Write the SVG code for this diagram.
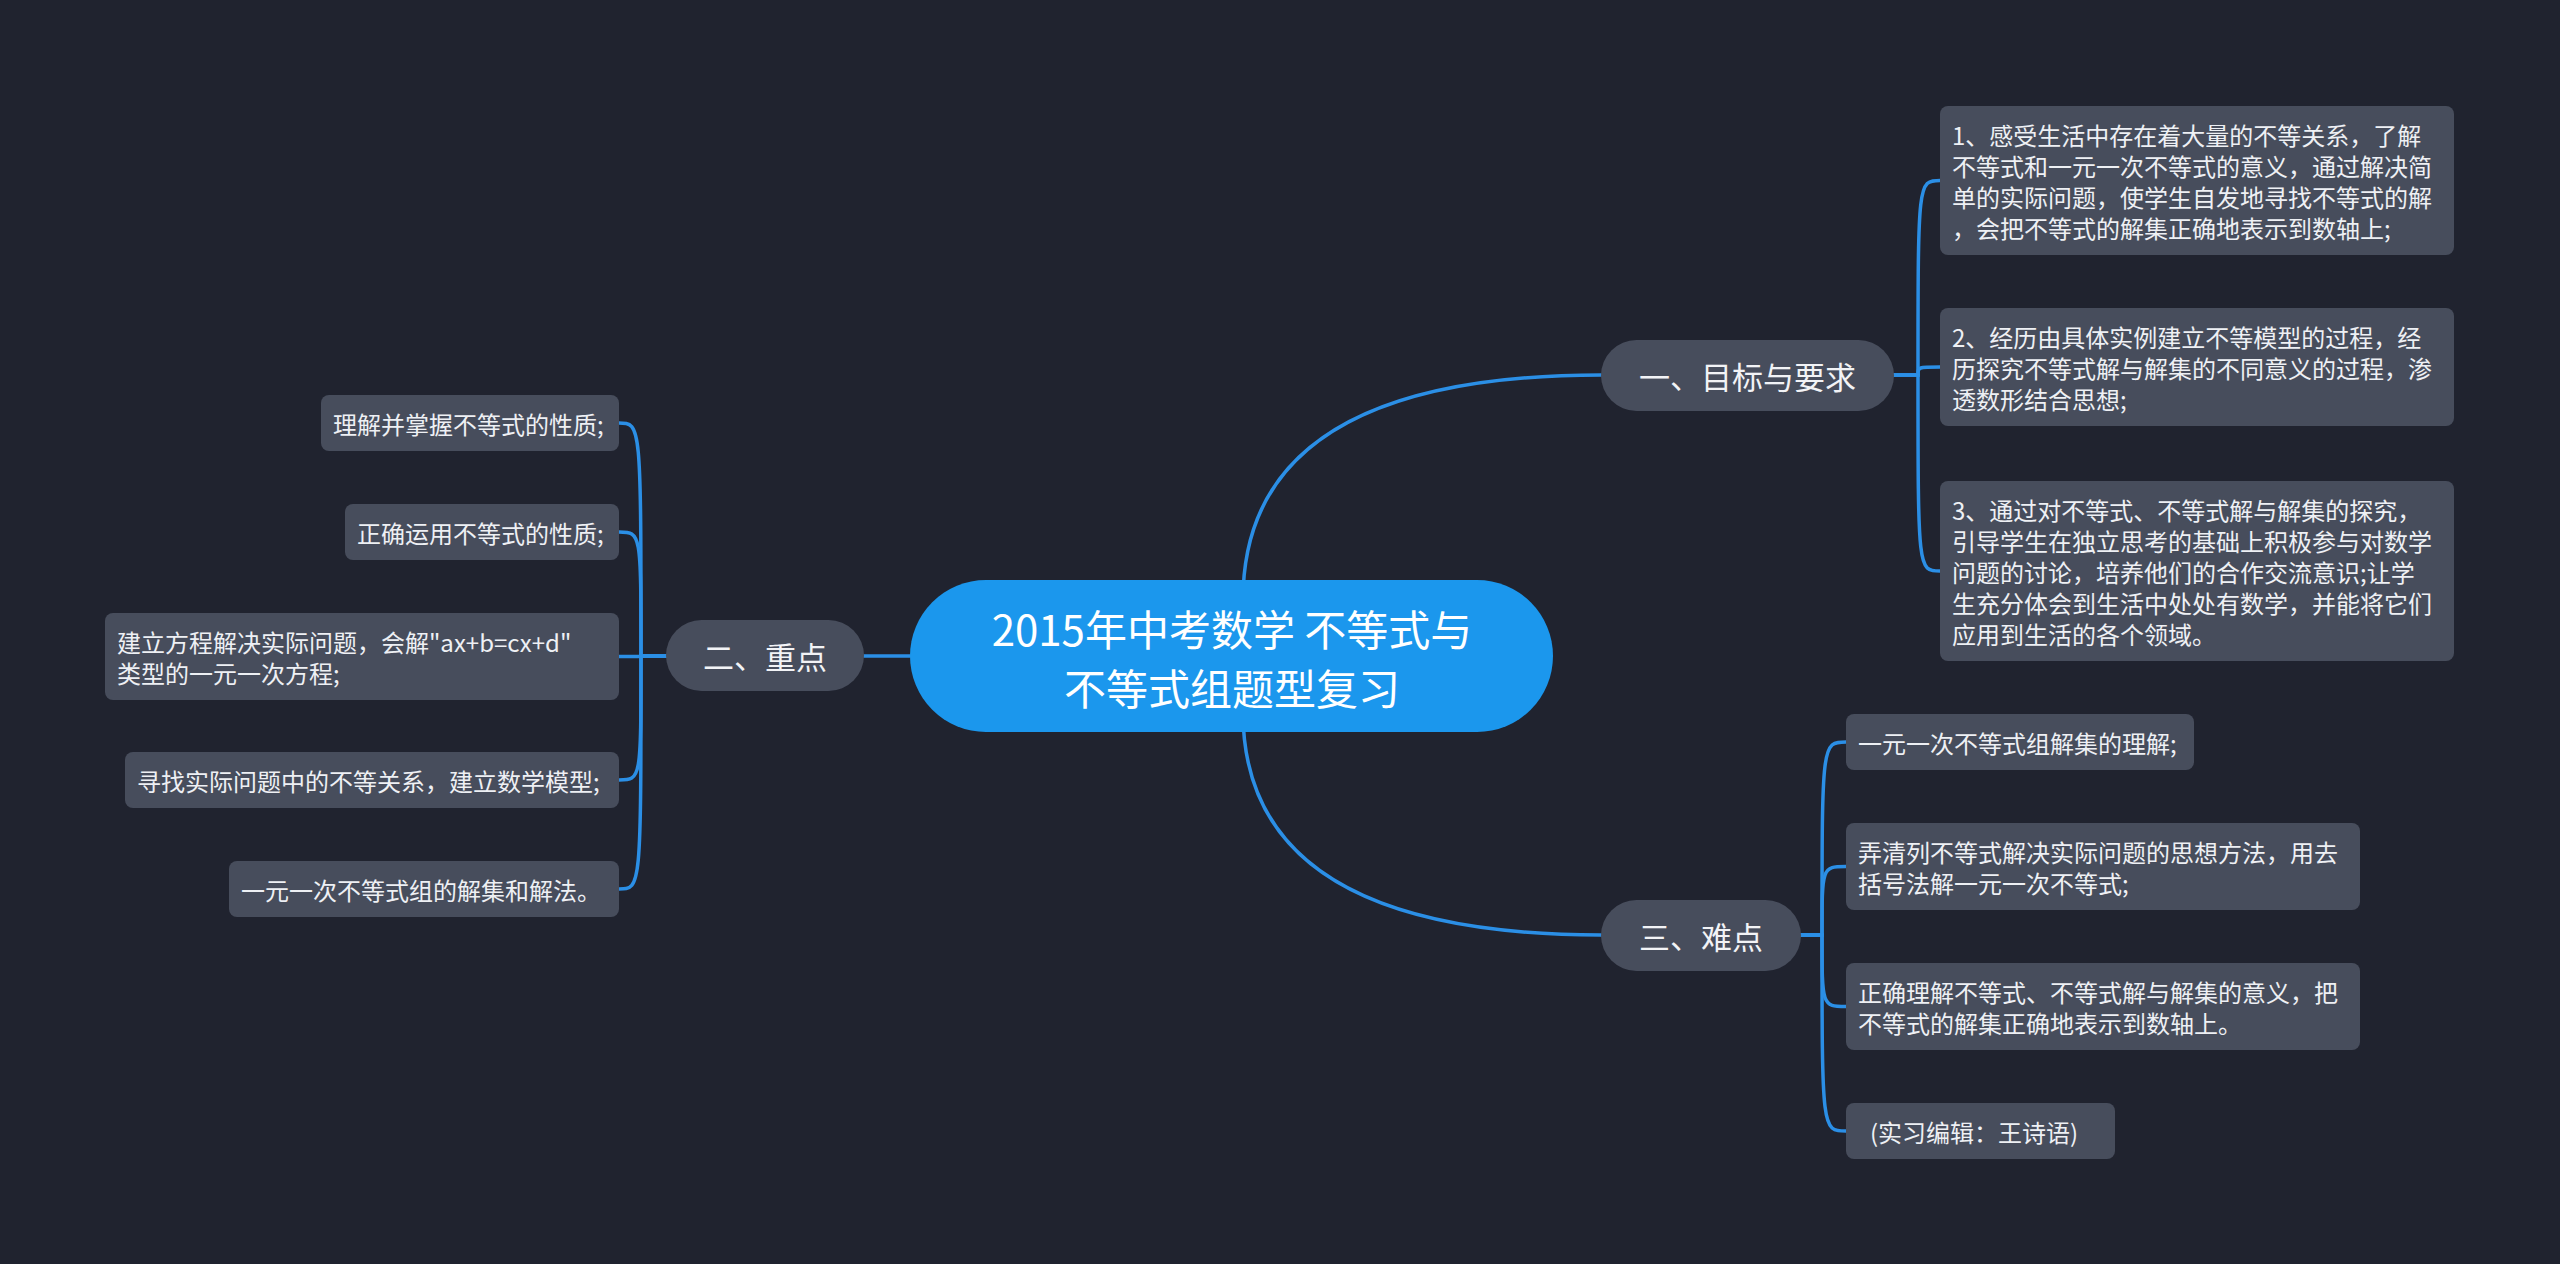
<svg xmlns="http://www.w3.org/2000/svg" width="2560" height="1264" viewBox="0 0 2560 1264">
<style>
.bg{fill:#20232f}
.leaf{fill:#474d5c}
.branch{fill:#474d5c}
.root{fill:#1b97ed}
.ln{fill:none;stroke:#2b8fe6;stroke-width:3.5;stroke-linecap:round}
text{font-family:"Noto Sans CJK SC","Microsoft YaHei","Noto Sans",sans-serif;dominant-baseline:central}
.lt{font-size:24px;fill:#eef0f4}
.bt{font-size:31px;fill:#f2f3f6;text-anchor:middle}
.rt{font-size:42px;fill:#ffffff;text-anchor:middle}
</style>
<rect class="bg" x="0" y="0" width="2560" height="1264"/>
<g id="connectors">
<path class="ln" d="M1243 600 Q1243 375 1601 375"/>
<path class="ln" d="M1243 712 Q1243 935 1601 935"/>
<path class="ln" d="M910 656 L864 656"/>
<path class="ln" d="M1894 375 L1918 375 C1918 180.5 1918 180.5 1940 180.5"/>
<path class="ln" d="M1894 375 L1918 375 C1918 367 1918 367 1940 367"/>
<path class="ln" d="M1894 375 L1918 375 C1918 571 1918 571 1940 571"/>
<path class="ln" d="M1801 935 L1822 935 C1822 742 1822 742 1846 742"/>
<path class="ln" d="M1801 935 L1822 935 C1822 866.5 1822 866.5 1846 866.5"/>
<path class="ln" d="M1801 935 L1822 935 C1822 1006.5 1822 1006.5 1846 1006.5"/>
<path class="ln" d="M1801 935 L1822 935 C1822 1131 1822 1131 1846 1131"/>
<path class="ln" d="M666 656 L641 656 C641 423 641 423 619 423"/>
<path class="ln" d="M666 656 L641 656 C641 532 641 532 619 532"/>
<path class="ln" d="M666 656 L641 656 C641 656.5 641 656.5 619 656.5"/>
<path class="ln" d="M666 656 L641 656 C641 780 641 780 619 780"/>
<path class="ln" d="M666 656 L641 656 C641 889 641 889 619 889"/>
</g>
<g id="root">
<rect class="root" x="910" y="580" width="643" height="152" rx="76"/>
<text class="rt" x="1232" y="627">2015年中考数学 不等式与</text>
<text class="rt" x="1232" y="686">不等式组题型复习</text>
</g>
<g id="b1">
<rect class="branch" x="1601" y="340" width="293" height="71" rx="35.5"/>
<text class="bt" x="1747.5" y="375.5">一、目标与要求</text>
</g>
<g id="b2">
<rect class="branch" x="666" y="620" width="198" height="71" rx="35.5"/>
<text class="bt" x="765" y="655.5">二、重点</text>
</g>
<g id="b3">
<rect class="branch" x="1601" y="900" width="200" height="71" rx="35.5"/>
<text class="bt" x="1701" y="935.5">三、难点</text>
</g>
<g id="r1">
<rect class="leaf" x="1940" y="106" width="514" height="149" rx="8"/>
<text class="lt" x="1952" y="134">1、感受生活中存在着大量的不等关系，了解</text>
<text class="lt" x="1952" y="165">不等式和一元一次不等式的意义，通过解决简</text>
<text class="lt" x="1952" y="196">单的实际问题，使学生自发地寻找不等式的解</text>
<text class="lt" x="1952" y="227">，会把不等式的解集正确地表示到数轴上;</text>
</g>
<g id="r2">
<rect class="leaf" x="1940" y="308" width="514" height="118" rx="8"/>
<text class="lt" x="1952" y="336">2、经历由具体实例建立不等模型的过程，经</text>
<text class="lt" x="1952" y="367">历探究不等式解与解集的不同意义的过程，渗</text>
<text class="lt" x="1952" y="398">透数形结合思想;</text>
</g>
<g id="r3">
<rect class="leaf" x="1940" y="481" width="514" height="180" rx="8"/>
<text class="lt" x="1952" y="509">3、通过对不等式、不等式解与解集的探究，</text>
<text class="lt" x="1952" y="540">引导学生在独立思考的基础上积极参与对数学</text>
<text class="lt" x="1952" y="571">问题的讨论，培养他们的合作交流意识;让学</text>
<text class="lt" x="1952" y="602">生充分体会到生活中处处有数学，并能将它们</text>
<text class="lt" x="1952" y="633">应用到生活的各个领域。</text>
</g>
<g id="d1">
<rect class="leaf" x="1846" y="714" width="348" height="56" rx="8"/>
<text class="lt" x="1858" y="742">一元一次不等式组解集的理解;</text>
</g>
<g id="d2">
<rect class="leaf" x="1846" y="823" width="514" height="87" rx="8"/>
<text class="lt" x="1858" y="851">弄清列不等式解决实际问题的思想方法，用去</text>
<text class="lt" x="1858" y="882">括号法解一元一次不等式;</text>
</g>
<g id="d3">
<rect class="leaf" x="1846" y="963" width="514" height="87" rx="8"/>
<text class="lt" x="1858" y="991">正确理解不等式、不等式解与解集的意义，把</text>
<text class="lt" x="1858" y="1022">不等式的解集正确地表示到数轴上。</text>
</g>
<g id="d4">
<rect class="leaf" x="1846" y="1103" width="269" height="56" rx="8"/>
<text class="lt" x="1870" y="1131">(实习编辑：王诗语)</text>
</g>
<g id="l1">
<rect class="leaf" x="321" y="395" width="298" height="56" rx="8"/>
<text class="lt" x="333" y="423">理解并掌握不等式的性质;</text>
</g>
<g id="l2">
<rect class="leaf" x="345" y="504" width="274" height="56" rx="8"/>
<text class="lt" x="357" y="532">正确运用不等式的性质;</text>
</g>
<g id="l3">
<rect class="leaf" x="105" y="613" width="514" height="87" rx="8"/>
<text class="lt" x="117" y="641">建立方程解决实际问题，会解"ax+b=cx+d"</text>
<text class="lt" x="117" y="672">类型的一元一次方程;</text>
</g>
<g id="l4">
<rect class="leaf" x="125" y="752" width="494" height="56" rx="8"/>
<text class="lt" x="137" y="780">寻找实际问题中的不等关系，建立数学模型;</text>
</g>
<g id="l5">
<rect class="leaf" x="229" y="861" width="390" height="56" rx="8"/>
<text class="lt" x="241" y="889">一元一次不等式组的解集和解法。</text>
</g>
</svg>
